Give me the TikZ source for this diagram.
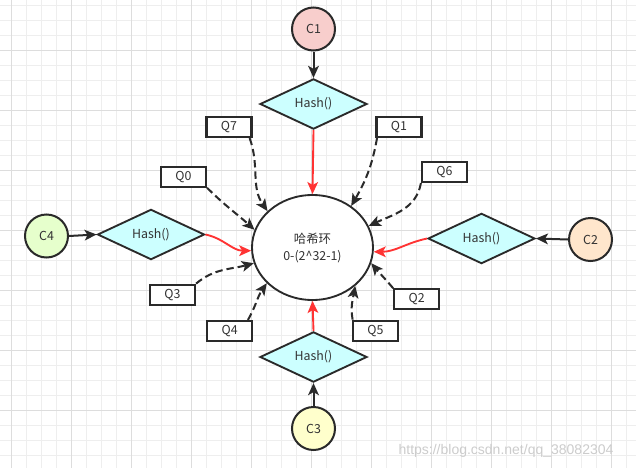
\documentclass[tikz,border=0pt]{standalone}
\usepackage{fontspec}
\setmainfont{Noto Sans CJK SC}
\newfontfamily\wmfont{Liberation Sans}
\usetikzlibrary{shapes.geometric,arrows.meta}
\definecolor{txt}{HTML}{333333}
\definecolor{ln}{HTML}{2A2A2A}
\definecolor{redln}{HTML}{FF3333}
\definecolor{cpink}{HTML}{F8CECC}
\definecolor{cgreen}{HTML}{E6FFCC}
\definecolor{corange}{HTML}{FFE6CC}
\definecolor{cyellow}{HTML}{FFFFCC}
\definecolor{ccyan}{HTML}{CCFFFF}
\definecolor{gridminor}{HTML}{EEEEEE}
\definecolor{gridmajor}{HTML}{DDDDDD}
\begin{document}
\begin{tikzpicture}[x=0.75pt,y=0.75pt,
  every node/.style={font=\fontsize{9.3pt}{12.75pt}\selectfont, text=txt},
  client/.style={circle, draw=ln, line width=1.5pt, minimum size=32.25pt, inner sep=0pt},
  hashbox/.style={diamond, draw=ln, line width=1.4pt, fill=ccyan, minimum width=80.25pt, minimum height=36pt, inner sep=0pt},
  ring/.style={ellipse, draw=ln, line width=1.4pt, fill=white, minimum width=90.75pt, minimum height=78.75pt, inner sep=0pt, align=center},
  qbox/.style={rectangle, draw=ln, line width=1.6pt, fill=white, minimum width=33.75pt, minimum height=15pt, inner sep=0pt},
  tipstyle/.style={-{Stealth[length=9pt,width=8pt,inset=2.2pt]}},
  blackarrow/.style={draw=ln, line width=1.5pt, tipstyle},
  redarrow/.style={draw=redln, line width=1.4pt, tipstyle},
  dasharrow/.style={draw=ln, line width=1.5pt, dash pattern=on 5.5pt off 3pt, tipstyle}
]
\useasboundingbox (0,0) rectangle (636,-468);
\fill[white] (0,0) rectangle (636,-468);
% grid
\begin{scope}
\clip (0,0) rectangle (636,-468);
\foreach \x in {-4,11,...,640} \draw[gridminor, line width=0.6pt] (\x,0) -- (\x,-468);
\foreach \y in {5,20,...,470} \draw[gridminor, line width=0.6pt] (0,-\y) -- (636,-\y);
\foreach \x in {11,71,...,640} \draw[gridmajor, line width=0.7pt] (\x,0) -- (\x,-468);
\foreach \y in {50,110,...,470} \draw[gridmajor, line width=0.7pt] (0,-\y) -- (636,-\y);
\end{scope}

% nodes
\node[client, fill=cpink] (C1) at (313.5,-29) {C1};
\node[client, fill=cgreen] (C4) at (46.5,-236) {C4};
\node[client, fill=corange] (C2) at (590.5,-239.5) {C2};
\node[client, fill=cyellow] (C3) at (313.5,-428.5) {C3};

\node[hashbox] (H1) at (313.5,-104) {Hash()};
\node[hashbox] (H4) at (151,-234.5) {Hash()};
\node[hashbox] (H2) at (481.5,-238.5) {Hash()};
\node[hashbox] (H3) at (313.5,-357) {Hash()};

\node[ring] (R) at (312.5,-247.5) {\raisebox{3pt}{\parbox{60pt}{\centering 哈希环\\0-(2\textasciicircum 32-1)}}};

\node[qbox] (Q7) at (229,-127) {Q7};
\node[qbox] (Q1) at (399,-127) {Q1};
\node[qbox] (Q0) at (183.5,-176.7) {Q0};
\node[qbox] (Q6) at (444.5,-172) {Q6};
\node[qbox] (Q3) at (172.5,-294.7) {Q3};
\node[qbox] (Q4) at (229.7,-331) {Q4};
\node[qbox] (Q2) at (416.7,-299.3) {Q2};
\node[qbox] (Q5) at (375.5,-330.7) {Q5};

% client -> hash
\draw[blackarrow] (C1) -- (H1);
\draw[blackarrow] (C4.east) -- (H4.west);
\draw[blackarrow] (C2.west) -- (H2.east);
\draw[blackarrow] (C3) -- (H3);

% hash -> ring
\draw[redarrow] (H1.south) -- (R.north);
\draw[redarrow] (H3.north) -- (R.south);
\draw[redarrow] (H4.east) to[out=-12, in=180] (R.183);
\draw[redarrow] (H2.west) to[out=192, in=0] (R.-4);

% Q -> ring
\draw[dasharrow] ([xshift=-2.2pt]Q7.south east) to[out=-70, in=125] (R.141);
\draw[dasharrow] (Q0.south east) to[out=-45, in=138] (R.163);
\draw[dasharrow] ([xshift=1.2pt]Q1.south west) to[out=-100, in=60] (R.47);
\draw[dasharrow] (Q6.south west) to[out=-100, in=25] (R.21);
\draw[dasharrow] (Q3.north east) to[out=40, in=195] (R.195);
\draw[dasharrow] ([xshift=-4pt]Q4.north east) to[out=60, in=235] (R.218);
\draw[dasharrow] (Q2.north west) to[out=130, in=-50] (R.-15);
\draw[dasharrow] ([xshift=0.5pt]Q5.north west) to[out=100, in=-100] (R.-42);

% watermark
\node[font=\wmfont\fontsize{10.5pt}{12pt}\selectfont, text=gray!40] (WM) at (506,-451) {https://blog.csdn.net/qq\_38082304};
\end{tikzpicture}
\end{document}
